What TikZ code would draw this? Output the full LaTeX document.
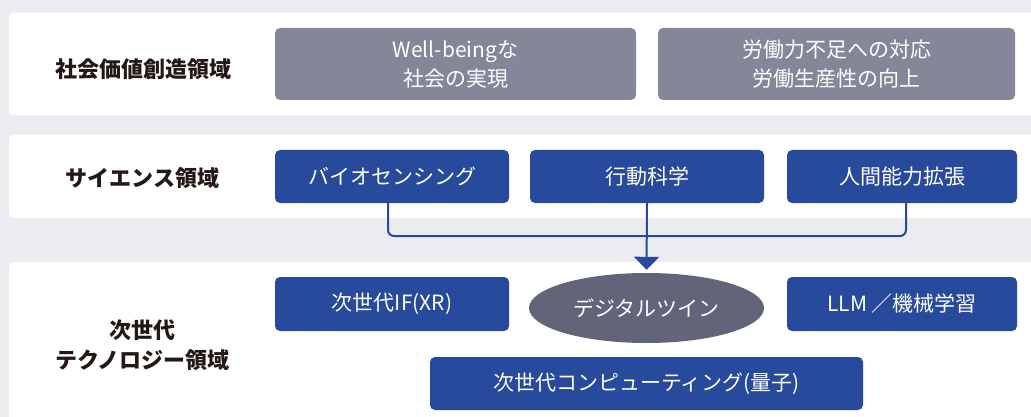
\documentclass[tikz,border=0pt]{standalone}
\usepackage{fontspec}
\setmainfont{Noto Sans CJK JP}
\usetikzlibrary{shapes.geometric,arrows.meta}
\definecolor{bgc}{HTML}{EBECF0}
\definecolor{grayb}{HTML}{858799}
\definecolor{blueb}{HTML}{274A9C}
\definecolor{ellc}{HTML}{626579}
\definecolor{labc}{HTML}{231815}
\tikzset{
  panel/.style={fill=white, draw=none, rounded corners=4pt},
  graybox/.style={fill=grayb, draw=none, rounded corners=5pt, text=white, align=center, inner sep=0pt, font=\fontsize{21}{29}\selectfont},
  bluebox/.style={fill=blueb, draw=none, rounded corners=5pt, text=white, align=center, inner sep=0pt, font=\fontsize{21}{29}\selectfont},
  ellbox/.style={ellipse, fill=ellc, draw=none, text=white, inner sep=0pt, font=\fontsize{21}{29}\selectfont},
  rowlabel/.style={text=labc, align=center, inner sep=0pt, font=\bfseries\fontsize{22}{30}\selectfont},
  conn/.style={draw=blueb, line width=2pt},
}
\begin{document}
\begin{tikzpicture}[x=1pt,y=-1pt]
\useasboundingbox (0,0) rectangle (1031,417);
\fill[bgc] (0,0) rectangle (1031,417);
% panels
\fill[panel] (9,13) rectangle (1045,115);
\fill[panel] (9,135) rectangle (1045,218);
\fill[panel] (9,262) rectangle (1045,430);
% row labels
\node[rowlabel] (l1) at (143,69) {社会価値創造領域};
\node[rowlabel] (l2) at (142.5,178) {サイエンス領域};
\node[rowlabel] (l3) at (142.5,345) {次世代\\テクノロジー領域};
% value boxes
\node[graybox, minimum width=361pt, minimum height=72pt] (wb) at (455.5,64) {Well-beingな\\社会の実現};
\node[graybox, minimum width=357pt, minimum height=72pt] (lab) at (836.5,64) {労働力不足への対応\\労働生産性の向上};
% science boxes
\node[bluebox, minimum width=234pt, minimum height=53pt] (bio) at (392,176.5) {バイオセンシング};
\node[bluebox, minimum width=234pt, minimum height=53pt] (beh) at (647,176.5) {行動科学};
\node[bluebox, minimum width=230pt, minimum height=53pt] (hum) at (902,176.5) {人間能力拡張};
% tech
\node[bluebox, minimum width=234pt, minimum height=54pt] (xr) at (392,304) {次世代IF(XR)};
\node[ellbox, minimum width=235pt, minimum height=70pt] (dt) at (646.5,308) {デジタルツイン};
\node[bluebox, minimum width=230pt, minimum height=54pt] (llm) at (902,304) {LLM ／機械学習};
\node[bluebox, minimum width=433pt, minimum height=53pt] (qc) at (646.5,383.5) {次世代コンピューティング(量子)};
% connectors
\coordinate (hj) at (648,236);
\draw[conn, rounded corners=6pt] ([xshift=-4pt]bio.south) |- (hj) -| ([xshift=4pt]hum.south);
\draw[conn, -{Triangle[width=25pt,length=13pt]}, shorten >=3pt] (beh.south) -- (dt.north);
\end{tikzpicture}
\end{document}
